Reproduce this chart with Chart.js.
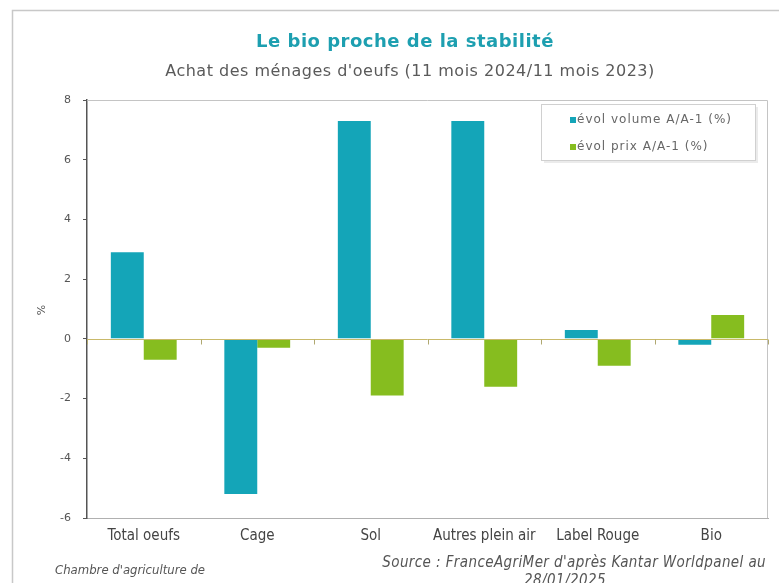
<!DOCTYPE html>
<html><head><meta charset="utf-8">
<script src="https://cdn.jsdelivr.net/npm/chart.js@4"></script>
<style>html,body{margin:0;padding:0;background:#fff}#w{width:779px;height:583px;position:relative}</style>
</head><body><div id="w"><canvas id="c" width="779" height="583"></canvas></div>
<script>
const categories = ["Total oeufs","Cage","Sol","Autres plein air","Label Rouge","Bio"];
const volume = [2.9, -5.2, 7.3, 7.3, 0.3, -0.2];
const prix = [-0.7, -0.3, -1.9, -1.6, -0.9, 0.8];
const seriesNames = ["évol volume A/A-1 (%)", "évol prix A/A-1 (%)"];
const yTicks = [-6,-4,-2,0,2,4,6,8];
const TEAL = "#14a5b8", GREEN = "#86bd1f";

const deco = {
  id: "deco",
  beforeDraw(chart) {
    const ctx = chart.ctx;
    ctx.save();
    ctx.fillStyle = "#fff";
    ctx.fillRect(0,0,chart.width,chart.height);
    ctx.strokeStyle = "#c8c8c8"; ctx.lineWidth = 1.5;
    ctx.beginPath(); ctx.moveTo(12.5, 583); ctx.lineTo(12.5, 10.5); ctx.lineTo(779, 10.5); ctx.stroke();
    ctx.restore();
  },
  afterDraw(chart) {
    const ctx = chart.ctx, a = chart.chartArea, y = chart.scales.y;
    ctx.save();
    ctx.strokeStyle = "#c4c4c4"; ctx.lineWidth = 1;
    ctx.beginPath(); ctx.moveTo(a.left, a.top+0.5); ctx.lineTo(a.right-0.5, a.top+0.5); ctx.lineTo(a.right-0.5, a.bottom); ctx.stroke();
    const z = Math.round(y.getPixelForValue(0)) + 0.5;
    ctx.strokeStyle = "#c9b96a"; ctx.lineWidth = 1;
    ctx.beginPath(); ctx.moveTo(a.left, z); ctx.lineTo(a.right, z); ctx.stroke();
    const step = (a.right - a.left) / categories.length;
    ctx.strokeStyle = "#b0a870";
    for (let i = 0; i <= categories.length; i++) {
      const px = Math.round(a.left + i*step) + 0.5;
      ctx.beginPath(); ctx.moveTo(px, z); ctx.lineTo(px, z+5); ctx.stroke();
    }
    ctx.textAlign = "center"; ctx.textBaseline = "middle";
    ctx.fillStyle = "#1d9fb0"; ctx.font = "bold 18px 'DejaVu Sans'"; ctx.letterSpacing = "0.5px";
    ctx.fillText("Le bio proche de la stabilité", 405, 42);
    ctx.fillStyle = "#5a5a5a"; ctx.font = "16px 'DejaVu Sans'"; ctx.letterSpacing = "0.5px";
    ctx.fillText("Achat des ménages d'oeufs (11 mois 2024/11 mois 2023)", 410, 72);
    ctx.letterSpacing = "0px";
    ctx.save(); ctx.translate(42, 310); ctx.rotate(-Math.PI/2);
    ctx.font = "11px 'DejaVu Sans'"; ctx.fillStyle = "#555"; ctx.fillText("%", 0, 0); ctx.restore();
    const lx = 541, ly = 104, lw = 214, lh = 56;
    ctx.fillStyle = "rgba(0,0,0,0.08)"; ctx.fillRect(lx+3, ly+3, lw, lh);
    ctx.fillStyle = "#fff"; ctx.fillRect(lx, ly, lw, lh);
    ctx.strokeStyle = "#d0d0d0"; ctx.strokeRect(lx+0.5, ly+0.5, lw, lh);
    const cols = [TEAL, GREEN], rows = [120, 147];
    ctx.textAlign = "left"; ctx.font = "12px 'DejaVu Sans'"; ctx.letterSpacing = "1px";
    chart.data.datasets.forEach((d, i) => {
      ctx.fillStyle = cols[i]; ctx.fillRect(570, rows[i]-3, 6, 6);
      ctx.fillStyle = "#666"; ctx.fillText(d.label, 577, rows[i]);
    });
    ctx.fillStyle = "#555";
    ctx.font = "italic 13px 'DejaVu Sans Condensed', 'DejaVu Sans'"; ctx.letterSpacing = "0px";
    ctx.textAlign = "left"; ctx.fillText("Chambre d'agriculture de", 55, 571);
    ctx.font = "italic 15px 'DejaVu Sans Condensed', 'DejaVu Sans'"; ctx.letterSpacing = "0.4px";
    ctx.textAlign = "right"; ctx.fillText("Source : FranceAgriMer d'après Kantar Worldpanel au", 766, 563);
    ctx.textAlign = "center"; ctx.fillText("28/01/2025", 565, 581);
    ctx.restore();
  }
};

new Chart(document.getElementById("c"), {
  type: "bar",
  data: {
    labels: categories,
    datasets: [
      { label: seriesNames[0], data: volume, backgroundColor: TEAL, categoryPercentage: 0.58, barPercentage: 1.0 },
      { label: seriesNames[1], data: prix, backgroundColor: GREEN, categoryPercentage: 0.58, barPercentage: 1.0 }
    ]
  },
  options: {
    responsive: false, animation: false,
    layout: { padding: { left: 30, right: 11, top: 100, bottom: 35 } },
    plugins: { legend: { display: false }, tooltip: { enabled: false }, title: { display: false } },
    scales: {
      x: {
        grid: { display: false, drawTicks: false },
        border: { display: true, color: "#b0b0b0" },
        ticks: { color: "#444", font: { family: "'DejaVu Sans Condensed','DejaVu Sans'", size: 15 }, padding: 9, maxRotation: 0, autoSkip: false },
        afterFit(s) { s.height = 30; }
      },
      y: {
        min: -6, max: 8,
        afterBuildTicks(s) { s.ticks = yTicks.map(v => ({ value: v })); },
        grid: { drawOnChartArea: true, color: (c) => (c.tick && c.tick.value === -6) ? "#c4c4c4" : "rgba(0,0,0,0)", tickColor: "#555", tickLength: 4 },
        border: { display: true, color: "#555", width: 1.5 },
        ticks: { color: "#555", font: { family: "'DejaVu Sans'", size: 11 }, padding: 12 },
        afterFit(s) { s.width = 57; }
      }
    }
  },
  plugins: [deco]
});
</script></body></html>
